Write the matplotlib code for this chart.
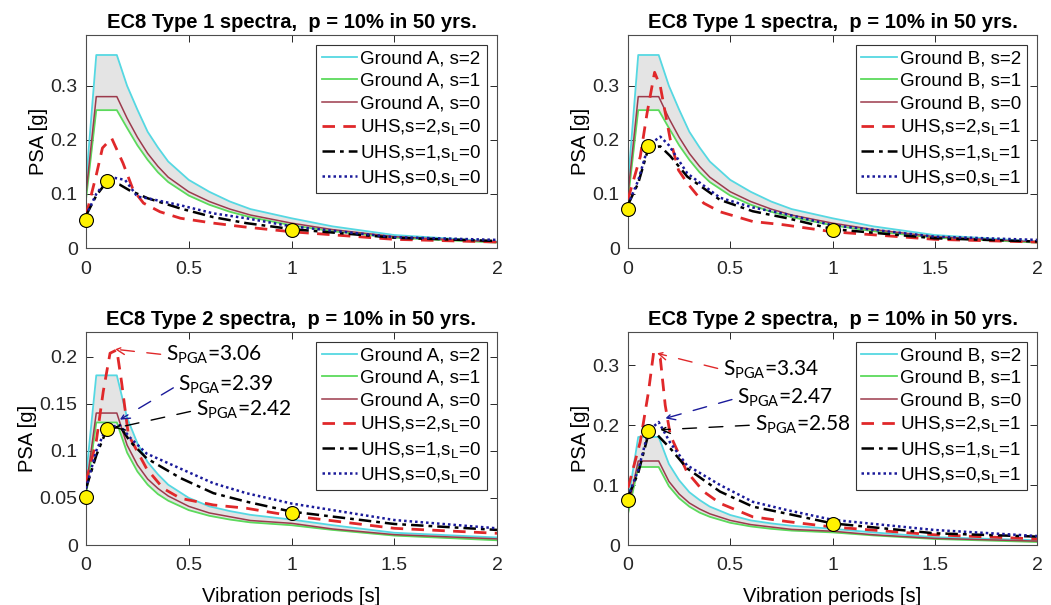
import matplotlib
matplotlib.use("Agg")
import matplotlib.pyplot as plt
from matplotlib.ticker import FuncFormatter

plt.rcParams['font.family'] = ['Liberation Sans', 'DejaVu Sans']
plt.rcParams['mathtext.default'] = 'regular'

# ---------------- data ----------------
# EC8 spectra (same normalised shapes in both ground columns)
EC8_T = [0, 0.05, 0.15, 0.2, 0.25, 0.3, 0.35, 0.4, 0.5, 0.6, 0.7, 0.8, 1.0, 1.2, 1.5, 2.0]
T1_S2 = [0.12, 0.357, 0.357, 0.300, 0.256, 0.215, 0.186, 0.160, 0.126, 0.104, 0.086, 0.072, 0.055, 0.040, 0.024, 0.012]
T1_S1 = [0.09, 0.255, 0.255, 0.222, 0.190, 0.163, 0.140, 0.122, 0.097, 0.080, 0.067, 0.057, 0.042, 0.031, 0.019, 0.010]
T1_S0 = [0.10, 0.280, 0.280, 0.240, 0.205, 0.175, 0.151, 0.131, 0.104, 0.086, 0.072, 0.061, 0.046, 0.034, 0.021, 0.011]
T2_S2 = [0.072, 0.180, 0.180, 0.135, 0.108, 0.088, 0.075, 0.064, 0.050, 0.041, 0.036, 0.032, 0.027, 0.021, 0.013, 0.008]
T2_S1 = [0.052, 0.130, 0.130, 0.098, 0.078, 0.064, 0.054, 0.047, 0.037, 0.031, 0.027, 0.024, 0.021, 0.016, 0.010, 0.005]
T2_S0 = [0.060, 0.140, 0.140, 0.106, 0.085, 0.070, 0.060, 0.052, 0.041, 0.034, 0.030, 0.026, 0.023, 0.017, 0.011, 0.0065]

# UHS, Type 1, ground A (sL=0)
U1A_s2_T = [0, 0.05, 0.08, 0.125, 0.18, 0.23, 0.28, 0.36, 0.46, 0.62, 0.77, 1.0, 1.5, 2.0]
U1A_s2   = [0.06, 0.135, 0.185, 0.203, 0.157, 0.107, 0.083, 0.067, 0.055, 0.046, 0.039, 0.030, 0.016, 0.011]
U1A_s1_T = [0, 0.05, 0.1, 0.165, 0.21, 0.3, 0.46, 0.62, 0.78, 1.0, 1.5, 2.0]
U1A_s1   = [0.06, 0.097, 0.122, 0.117, 0.107, 0.092, 0.073, 0.057, 0.046, 0.035, 0.019, 0.013]
U1A_s0_T = [0, 0.05, 0.1, 0.135, 0.19, 0.25, 0.3, 0.46, 0.62, 0.78, 1.0, 1.5, 2.0]
U1A_s0   = [0.06, 0.10, 0.125, 0.130, 0.126, 0.095, 0.092, 0.079, 0.064, 0.055, 0.040, 0.020, 0.015]
# UHS, Type 1, ground B (sL=1)
U1B_s2_T = [0, 0.06, 0.093, 0.13, 0.158, 0.207, 0.247, 0.29, 0.37, 0.45, 0.61, 0.76, 1.0, 1.5, 2.0]
U1B_s2   = [0.09, 0.169, 0.249, 0.325, 0.299, 0.200, 0.144, 0.120, 0.083, 0.067, 0.049, 0.043, 0.030, 0.016, 0.011]
U1B_s1_T = [0, 0.05, 0.1, 0.158, 0.207, 0.29, 0.45, 0.61, 0.78, 1.0, 1.5, 2.0]
U1B_s1   = [0.08, 0.12, 0.185, 0.188, 0.170, 0.132, 0.089, 0.068, 0.055, 0.035, 0.018, 0.012]
U1B_s0_T = [0, 0.05, 0.1, 0.158, 0.2, 0.29, 0.45, 0.61, 0.78, 1.0, 1.5, 2.0]
U1B_s0   = [0.08, 0.125, 0.19, 0.206, 0.190, 0.138, 0.093, 0.075, 0.062, 0.042, 0.021, 0.015]
# UHS, Type 2, ground A (sL=0)
U2A_s2_T = [0, 0.05, 0.084, 0.117, 0.15, 0.173, 0.206, 0.295, 0.376, 0.46, 0.62, 0.78, 1.0, 1.5, 2.0]
U2A_s2   = [0.067, 0.11, 0.163, 0.2035, 0.207, 0.173, 0.117, 0.081, 0.060, 0.0495, 0.0425, 0.039, 0.031, 0.0177, 0.0124]
U2A_s1_T = [0, 0.05, 0.1, 0.165, 0.214, 0.295, 0.46, 0.62, 0.78, 1.0, 1.5, 2.0]
U2A_s1   = [0.06, 0.095, 0.122, 0.126, 0.110, 0.092, 0.071, 0.055, 0.046, 0.0354, 0.0223, 0.016]
U2A_s0_T = [0, 0.05, 0.1, 0.165, 0.214, 0.295, 0.46, 0.62, 0.78, 1.0, 1.5, 2.0]
U2A_s0   = [0.06, 0.10, 0.125, 0.127, 0.114, 0.097, 0.081, 0.0655, 0.055, 0.044, 0.0265, 0.0177]
# UHS, Type 2, ground B (sL=1)
U2B_s2_T = [0, 0.06, 0.1, 0.125, 0.158, 0.182, 0.207, 0.288, 0.37, 0.45, 0.61, 0.78, 1.0, 1.5, 2.0]
U2B_s2   = [0.095, 0.172, 0.255, 0.320, 0.311, 0.233, 0.183, 0.122, 0.089, 0.0695, 0.047, 0.039, 0.030, 0.017, 0.010]
U2B_s1_T = [0, 0.05, 0.1, 0.125, 0.207, 0.288, 0.45, 0.61, 0.78, 1.0, 1.5, 2.0]
U2B_s1   = [0.08, 0.12, 0.185, 0.190, 0.161, 0.128, 0.089, 0.064, 0.052, 0.036, 0.0195, 0.014]
U2B_s0_T = [0, 0.05, 0.1, 0.15, 0.207, 0.288, 0.45, 0.61, 0.78, 1.0, 1.5, 2.0]
U2B_s0   = [0.08, 0.125, 0.19, 0.205, 0.170, 0.133, 0.100, 0.072, 0.058, 0.042, 0.025, 0.015]

# yellow reference points (T = 0, 0.1, 1 s)
PT_T = [0, 0.1, 1.0]
PT_1A = [0.051, 0.124, 0.033]
PT_1B = [0.073, 0.189, 0.033]
PT_2A = [0.051, 0.123, 0.0336]
PT_2B = [0.075, 0.190, 0.035]

SPGA_2A = ['3.06', '2.39', '2.42']
SPGA_2B = ['3.34', '2.47', '2.58']

TITLES = ['EC8 Type 1 spectra,  p = 10% in 50 yrs.', 'EC8 Type 2 spectra,  p = 10% in 50 yrs.']
GROUNDS = ['A', 'B']
SL = ['0', '1']
YLIMS = [[0, 0.394], [0, 0.394], [0, 0.226], [0, 0.355]]
YTICKS = [[0, 0.1, 0.2, 0.3], [0, 0.1, 0.2, 0.3], [0, 0.05, 0.1, 0.15, 0.2], [0, 0.1, 0.2, 0.3]]
XTICKS = [0, 0.5, 1, 1.5, 2]

C_CYAN = '#55D8E2'
C_GREEN = '#5CDA5C'
C_BROWN = '#9C3A4C'
C_RED = '#E0282A'
C_BLACK = '#000000'
C_BLUE = '#1A1A9A'
C_FILL = '#E4E4E4'

fig = plt.figure(figsize=(10.51, 6.05), dpi=100)
W, H = 1051, 605
def ax_at(x0, y0, x1, y1):
    return fig.add_axes([x0 / W, 1 - y1 / H, (x1 - x0) / W, (y1 - y0) / H])

axes = [ax_at(86, 35, 497, 248), ax_at(628, 35, 1037, 248),
        ax_at(86, 332, 497, 545), ax_at(628, 332, 1037, 545)]

panels = [
    (T1_S2, T1_S1, T1_S0, (U1A_s2_T, U1A_s2), (U1A_s1_T, U1A_s1), (U1A_s0_T, U1A_s0), PT_1A, 0, 0),
    (T1_S2, T1_S1, T1_S0, (U1B_s2_T, U1B_s2), (U1B_s1_T, U1B_s1), (U1B_s0_T, U1B_s0), PT_1B, 0, 1),
    (T2_S2, T2_S1, T2_S0, (U2A_s2_T, U2A_s2), (U2A_s1_T, U2A_s1), (U2A_s0_T, U2A_s0), PT_2A, 1, 0),
    (T2_S2, T2_S1, T2_S0, (U2B_s2_T, U2B_s2), (U2B_s1_T, U2B_s1), (U2B_s0_T, U2B_s0), PT_2B, 1, 1),
]

fmt = FuncFormatter(lambda v, p: ('%g' % v))

for i, (ax, pan) in enumerate(zip(axes, panels)):
    s2, s1, s0, u2, u1, u0, pts, typ, g = pan
    ax.fill_between(EC8_T, s1, s2, color=C_FILL, lw=0, zorder=1)
    g_lbl = GROUNDS[g]
    ax.plot(EC8_T, s2, color=C_CYAN, lw=1.3, label='Ground %s, s=2' % g_lbl, zorder=2)
    ax.plot(EC8_T, s1, color=C_GREEN, lw=1.3, label='Ground %s, s=1' % g_lbl, zorder=2)
    ax.plot(EC8_T, s0, color=C_BROWN, lw=1.1, label='Ground %s, s=0' % g_lbl, zorder=2)
    sl = SL[g]
    ax.plot(u2[0], u2[1], color=C_RED, lw=2.0, ls=(0, (4.5, 3)), label='UHS,s=2,s$_L$=%s' % sl, zorder=3)
    ax.plot(u1[0], u1[1], color=C_BLACK, lw=1.8, ls=(0, (5, 2, 1.5, 2)), label='UHS,s=1,s$_L$=%s' % sl, zorder=3)
    ax.plot(u0[0], u0[1], color=C_BLUE, lw=1.8, ls=(0, (1, 1.2)), label='UHS,s=0,s$_L$=%s' % sl, zorder=3)
    ax.plot(PT_T, pts, ls='none', marker='o', ms=10, mfc='#FFF200', mec='black', mew=0.8, zorder=5, clip_on=False)

    ax.set_xlim(0, 2)
    ax.set_ylim(*YLIMS[i])
    ax.set_xticks(XTICKS)
    ax.set_yticks(YTICKS[i])
    ax.xaxis.set_major_formatter(fmt)
    ax.yaxis.set_major_formatter(fmt)
    ax.tick_params(direction='in', top=True, right=True, length=5, width=0.7,
                   labelsize=14, colors='#262626')
    ax.tick_params(axis='x', pad=9)
    ax.tick_params(axis='y', pad=6)
    for sp in ax.spines.values():
        sp.set_color('#4d4d4d')
        sp.set_linewidth(0.8)
    ax.set_title(TITLES[typ], fontsize=14.5, fontweight='bold', pad=5)
    ax.set_ylabel('PSA [g]', fontsize=14.5, labelpad=2)
    if typ == 1:
        ax.set_xlabel('Vibration periods [s]', fontsize=14.5, labelpad=9)
    leg = ax.legend(loc='upper right', bbox_to_anchor=(0.975, 0.955), fontsize=13.5,
                    handlelength=1.9, handletextpad=0.15, labelspacing=0.28,
                    borderpad=0.3, borderaxespad=0, fancybox=False, framealpha=1,
                    edgecolor='#333333')
    leg.get_frame().set_linewidth(0.8)
    leg.set_zorder(6)

# S_PGA annotations (type 2 panels)
ann = [
    (axes[2], SPGA_2A, [((0.141, 0.2077), (0.39, 0.2017), C_RED),
                        ((0.165, 0.133), (0.45, 0.170), C_BLUE),
                        ((0.141, 0.124), (0.535, 0.143), C_BLACK)]),
    (axes[3], SPGA_2B, [((0.142, 0.3195), (0.465, 0.292), C_RED),
                        ((0.182, 0.211), (0.535, 0.245), C_BLUE),
                        ((0.158, 0.192), (0.62, 0.200), C_BLACK)]),
]
for ax, labels, specs in ann:
    for lab, (head, txt, col) in zip(labels, specs):
        ax.annotate('S$_{PGA}$=%s' % lab, xy=head, xytext=txt, fontsize=15,
                    ha='left', va='center', color='black', zorder=7,
                    family=['Lato', 'DejaVu Sans'],
                    arrowprops=dict(arrowstyle='->', color=col, lw=1.0,
                                    ls=(0, (10, 9)), relpos=(0, 0.5),
                                    shrinkA=2, shrinkB=0))

fig.savefig('out.png', dpi=100)
